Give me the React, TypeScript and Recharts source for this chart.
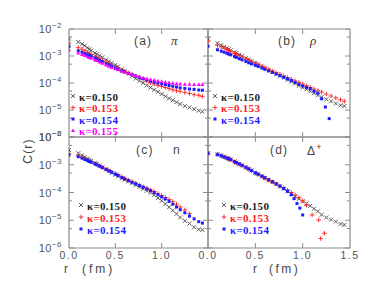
import { ScatterChart, Scatter, XAxis, YAxis } from "recharts";

const W = 382;
const H = 300;

// r in fm (lattice distances)
const R_GRID = [0, 0.1, 0.14, 0.17, 0.2, 0.22, 0.24, 0.28, 0.3, 0.33, 0.36, 0.4, 0.43, 0.46, 0.5, 0.53, 0.57, 0.6, 0.64, 0.68, 0.72, 0.76, 0.8, 0.84, 0.88, 0.92, 0.96, 1.0, 1.04, 1.08, 1.12, 1.16, 1.2, 1.25, 1.3, 1.35, 1.4, 1.44];
const R_RHO_154 = [0, 0.1, 0.14, 0.17, 0.2, 0.22, 0.24, 0.28, 0.3, 0.33, 0.36, 0.4, 0.43, 0.46, 0.5, 0.53, 0.57, 0.6, 0.64, 0.68, 0.72, 0.76, 0.8, 0.84, 0.88, 0.92, 0.96, 1.0, 1.04, 1.08, 1.12, 1.16, 1.2, 1.24, 1.28];
const R_N_153 = [0, 0.1, 0.14, 0.17, 0.2, 0.22, 0.24, 0.28, 0.3, 0.33, 0.36, 0.4, 0.43, 0.46, 0.5, 0.53, 0.57, 0.6, 0.64, 0.68, 0.72, 0.76, 0.8, 0.84, 0.88, 0.92, 0.96, 1.0, 1.04, 1.08, 1.12, 1.16, 1.2, 1.25, 1.3];
const R_DELTA_153 = [0, 0.1, 0.14, 0.17, 0.2, 0.22, 0.24, 0.28, 0.3, 0.33, 0.36, 0.4, 0.43, 0.46, 0.5, 0.53, 0.57, 0.6, 0.64, 0.68, 0.72, 0.76, 0.8, 0.84, 0.88, 0.92, 0.96, 1.0, 1.04, 1.1, 1.17, 1.19, 1.23];
const R_DELTA_154 = [0, 0.1, 0.14, 0.17, 0.2, 0.22, 0.24, 0.28, 0.3, 0.33, 0.36, 0.4, 0.43, 0.46, 0.5, 0.53, 0.57, 0.6, 0.64, 0.68, 0.72, 0.76, 0.8, 0.84, 0.88, 0.91, 0.94, 0.97, 1.0];

// (a) pi
const PI_150 = [4.4e-3, 3.3e-3, 2.8e-3, 2.4e-3, 2.0e-3, 1.78e-3, 1.58e-3, 1.29e-3, 1.17e-3, 1.02e-3, 8.9e-4, 7.2e-4, 6.3e-4, 5.5e-4, 4.7e-4, 4.1e-4, 3.2e-4, 2.75e-4, 2.2e-4, 1.78e-4, 1.45e-4, 1.2e-4, 1.0e-4, 8.1e-5, 6.8e-5, 5.6e-5, 4.7e-5, 3.9e-5, 3.2e-5, 2.7e-5, 2.3e-5, 1.95e-5, 1.66e-5, 1.41e-5, 1.23e-5, 1.07e-5, 9.5e-6, 8.7e-6];
const PI_153 = [3.0e-3, 2.04e-3, 1.78e-3, 1.55e-3, 1.35e-3, 1.23e-3, 1.12e-3, 9.5e-4, 8.9e-4, 7.9e-4, 6.9e-4, 5.9e-4, 5.2e-4, 4.6e-4, 4.0e-4, 3.55e-4, 3.0e-4, 2.7e-4, 2.35e-4, 2.05e-4, 1.78e-4, 1.55e-4, 1.35e-4, 1.17e-4, 1.02e-4, 9.1e-5, 8.1e-5, 7.4e-5, 6.8e-5, 6.2e-5, 5.6e-5, 5.2e-5, 4.9e-5, 4.5e-5, 4.1e-5, 3.7e-5, 3.5e-5, 3.2e-5];
const PI_154 = [2.3e-3, 1.55e-3, 1.38e-3, 1.23e-3, 1.1e-3, 1.02e-3, 9.5e-4, 8.3e-4, 7.8e-4, 6.9e-4, 6.2e-4, 5.2e-4, 4.7e-4, 4.2e-4, 3.6e-4, 3.2e-4, 2.8e-4, 2.6e-4, 2.3e-4, 2.05e-4, 1.82e-4, 1.62e-4, 1.45e-4, 1.32e-4, 1.17e-4, 1.07e-4, 1.0e-4, 9.3e-5, 8.7e-5, 8.1e-5, 7.6e-5, 7.1e-5, 6.6e-5, 6.3e-5, 6.0e-5, 5.8e-5, 5.5e-5, 5.4e-5];
const PI_155 = [1.7e-3, 1.29e-3, 1.15e-3, 1.05e-3, 9.5e-4, 8.9e-4, 8.3e-4, 7.2e-4, 6.8e-4, 6.0e-4, 5.4e-4, 4.7e-4, 4.2e-4, 3.8e-4, 3.4e-4, 3.1e-4, 2.75e-4, 2.5e-4, 2.3e-4, 2.1e-4, 1.9e-4, 1.74e-4, 1.58e-4, 1.48e-4, 1.35e-4, 1.29e-4, 1.2e-4, 1.15e-4, 1.1e-4, 1.05e-4, 1.0e-4, 9.5e-5, 9.3e-5, 9.1e-5, 9.1e-5, 8.9e-5, 8.9e-5, 8.9e-5];

// (b) rho
const RHO_150 = [4.4e-3, 3.0e-3, 2.5e-3, 2.2e-3, 1.95e-3, 1.78e-3, 1.62e-3, 1.38e-3, 1.29e-3, 1.12e-3, 1.0e-3, 8.3e-4, 7.4e-4, 6.5e-4, 5.5e-4, 4.8e-4, 4.1e-4, 3.6e-4, 3.0e-4, 2.6e-4, 2.2e-4, 1.86e-4, 1.55e-4, 1.32e-4, 1.12e-4, 9.5e-5, 7.9e-5, 6.8e-5, 5.8e-5, 4.9e-5, 4.2e-5, 3.5e-5, 3.0e-5, 2.5e-5, 2.1e-5, 1.74e-5, 1.5e-5, 1.4e-5];
const RHO_153 = [3.5e-3, 2.5e-3, 2.2e-3, 1.95e-3, 1.74e-3, 1.58e-3, 1.45e-3, 1.23e-3, 1.15e-3, 1.02e-3, 9.1e-4, 7.8e-4, 6.9e-4, 6.2e-4, 5.4e-4, 4.8e-4, 4.1e-4, 3.6e-4, 3.2e-4, 2.75e-4, 2.4e-4, 2.1e-4, 1.82e-4, 1.58e-4, 1.38e-4, 1.2e-4, 1.05e-4, 9.1e-5, 7.9e-5, 6.9e-5, 6.0e-5, 5.2e-5, 4.6e-5, 3.9e-5, 3.3e-5, 2.8e-5, 2.4e-5, 2.1e-5];
const RHO_154 = [2.3e-3, 1.7e-3, 1.51e-3, 1.38e-3, 1.26e-3, 1.17e-3, 1.1e-3, 9.5e-4, 8.9e-4, 7.9e-4, 7.2e-4, 6.3e-4, 5.6e-4, 5.1e-4, 4.5e-4, 4.1e-4, 3.55e-4, 3.2e-4, 2.8e-4, 2.45e-4, 2.15e-4, 1.86e-4, 1.62e-4, 1.41e-4, 1.23e-4, 1.05e-4, 8.9e-5, 7.8e-5, 6.8e-5, 6.2e-5, 5.0e-5, 4.2e-5, 2.6e-5, 1.29e-5, 4.8e-6];

// (c) n
const N_150 = [3.4e-3, 2.6e-3, 2.2e-3, 1.9e-3, 1.66e-3, 1.51e-3, 1.38e-3, 1.17e-3, 1.07e-3, 9.3e-4, 8.1e-4, 6.8e-4, 5.9e-4, 5.1e-4, 4.3e-4, 3.8e-4, 3.2e-4, 2.9e-4, 2.5e-4, 2.15e-4, 1.86e-4, 1.58e-4, 1.35e-4, 1.15e-4, 9.8e-5, 8.1e-5, 6.3e-5, 5.0e-5, 3.9e-5, 2.95e-5, 2.25e-5, 1.7e-5, 1.26e-5, 9.5e-6, 7.6e-6, 5.6e-6, 4.7e-6, 4.5e-6];
const N_153 = [2.5e-3, 2.1e-3, 1.82e-3, 1.62e-3, 1.48e-3, 1.38e-3, 1.29e-3, 1.1e-3, 1.02e-3, 9.1e-4, 8.1e-4, 6.9e-4, 6.2e-4, 5.5e-4, 4.8e-4, 4.3e-4, 3.6e-4, 3.2e-4, 2.8e-4, 2.45e-4, 2.15e-4, 1.86e-4, 1.62e-4, 1.41e-4, 1.23e-4, 1.07e-4, 9.1e-5, 7.8e-5, 6.6e-5, 5.6e-5, 4.7e-5, 3.8e-5, 3.0e-5, 2.35e-5, 1.74e-5];
const N_154 = [2.25e-3, 1.95e-3, 1.74e-3, 1.55e-3, 1.41e-3, 1.32e-3, 1.23e-3, 1.07e-3, 1.0e-3, 8.9e-4, 7.9e-4, 6.8e-4, 6.0e-4, 5.4e-4, 4.6e-4, 4.1e-4, 3.5e-4, 3.1e-4, 2.7e-4, 2.35e-4, 2.05e-4, 1.78e-4, 1.55e-4, 1.35e-4, 1.17e-4, 1.0e-4, 8.3e-5, 6.9e-5, 5.8e-5, 4.8e-5, 3.8e-5, 3.0e-5, 2.4e-5, 1.86e-5, 1.41e-5, 1.12e-5, 8.9e-6, 7.9e-6];

// (d) Delta+
const DELTA_150 = [2.6e-3, 2.4e-3, 2.15e-3, 1.95e-3, 1.78e-3, 1.66e-3, 1.55e-3, 1.32e-3, 1.2e-3, 1.07e-3, 9.5e-4, 8.1e-4, 7.1e-4, 6.2e-4, 5.1e-4, 4.5e-4, 3.8e-4, 3.3e-4, 2.75e-4, 2.35e-4, 2.0e-4, 1.66e-4, 1.38e-4, 1.12e-4, 8.9e-5, 7.2e-5, 5.9e-5, 4.8e-5, 4.0e-5, 3.3e-5, 2.6e-5, 2.1e-5, 1.58e-5, 1.26e-5, 1.05e-5, 8.9e-6, 7.4e-6, 6.8e-6];
const DELTA_153 = [2.5e-3, 2.35e-3, 2.1e-3, 1.9e-3, 1.74e-3, 1.62e-3, 1.51e-3, 1.29e-3, 1.17e-3, 1.05e-3, 9.3e-4, 7.9e-4, 6.9e-4, 6.0e-4, 5.0e-4, 4.5e-4, 3.8e-4, 3.3e-4, 2.8e-4, 2.4e-4, 2.05e-4, 1.7e-4, 1.45e-4, 1.2e-4, 1.0e-4, 8.1e-5, 6.5e-5, 5.0e-5, 3.5e-5, 1.55e-5, 1.02e-5, 2.2e-6, 3.4e-6];
const DELTA_154 = [2.6e-3, 2.3e-3, 2.1e-3, 1.9e-3, 1.74e-3, 1.62e-3, 1.51e-3, 1.29e-3, 1.2e-3, 1.07e-3, 9.5e-4, 8.1e-4, 7.1e-4, 6.2e-4, 5.1e-4, 4.6e-4, 3.9e-4, 3.4e-4, 2.9e-4, 2.45e-4, 2.05e-4, 1.7e-4, 1.38e-4, 1.1e-4, 8.3e-5, 6.0e-5, 4.0e-5, 2.75e-5, 1.55e-5];

const KAPPAS = ["0.150", "0.153", "0.154", "0.155"];
const COLORS = ["#222222", "#ff2020", "#1c1cff", "#ff00ff"];

const X_TICKS = [0, 0.5, 1.0, 1.5];
const Y_TICKS = [1e-6, 5e-6, 1e-5, 5e-5, 1e-4, 5e-4, 1e-3, 5e-3, 1e-2];

const FRAME = "#8c8c8c";
const SANS = "'Liberation Sans', Arial, sans-serif";
const SERIF = "'Liberation Serif', 'Times New Roman', serif";

const zip = (rs: number[], cs: number[]) => cs.map((c, i) => ({ r: rs[i], c }));

const Cross = (p: any) => (
  <path d={`M${p.cx - 2},${p.cy - 2}L${p.cx + 2},${p.cy + 2}M${p.cx - 2},${p.cy + 2}L${p.cx + 2},${p.cy - 2}`} stroke="#333" strokeWidth={0.8} fill="none" />
);
const Plus = (p: any) => (
  <path d={`M${p.cx - 2.3},${p.cy}h4.6M${p.cx},${p.cy - 2.3}v4.6`} stroke="#ff2020" strokeWidth={0.9} fill="none" />
);
const Dot = (p: any) => <rect x={p.cx - 1.5} y={p.cy - 1.5} width={3} height={3} fill="#1c1cff" />;
const Tri = (p: any) => (
  <path d={`M${p.cx},${p.cy - 2}L${p.cx + 2},${p.cy + 1.6}L${p.cx - 2},${p.cy + 1.6}Z`} fill="#ff00ff" />
);
const SHAPES = [Cross, Plus, Dot, Tri];

const isMajor = (v: number) => Math.abs(Math.log10(v) - Math.round(Math.log10(v))) < 1e-6;

// y tick: inward tick line at the frame edge, optional 10^-n label
const makeYTick = (edge: number, dir: number, labels: boolean) => (p: any) => {
  const v = p.payload.value;
  const major = isMajor(v);
  const len = major ? 5 : 3;
  const exp = Math.round(Math.log10(v));
  return (
    <g>
      <line x1={edge} x2={edge + dir * len} y1={p.y} y2={p.y} stroke={FRAME} strokeWidth={1} />
      {labels && major && (
        <text x={edge - 7} y={p.y + 4} textAnchor="end" fontSize={11} fill="#555" fontFamily={SANS} letterSpacing={0.5}>
          10<tspan dy={-5} fontSize={8}>{`\u2212${-exp}`}</tspan>
        </text>
      )}
    </g>
  );
};

const makeXTick = (edge: number, dir: number, labels: number[]) => (p: any) => {
  const v = p.payload.value;
  const inner = v > 0 && v < 1.5;
  return (
    <g>
      {inner && <line x1={p.x} x2={p.x} y1={edge} y2={edge + dir * 5} stroke={FRAME} strokeWidth={1} />}
      {labels.includes(v) && (
        <text x={p.x} y={edge + 11} textAnchor="middle" fontSize={10.5} fill="#555" fontFamily={SANS} letterSpacing={1.5}>
          {v.toFixed(1)}
        </text>
      )}
    </g>
  );
};

type Series = { data: { r: number; c: number }[]; kind: number };
type Box = { x0: number; x1: number; y0: number; y1: number };

function Panel({ box, series, yLabels, xLabels }: { box: Box; series: Series[]; yLabels: boolean; xLabels: number[] }) {
  const margin = { left: box.x0 - 1, right: W - box.x1 - 1, top: box.y0 - 1, bottom: H - box.y1 - 1 };
  const line = { stroke: FRAME, strokeWidth: 1.2 };
  const yCommon = { type: "number" as const, scale: "log" as const, domain: [1e-6, 1e-2], allowDataOverflow: true, width: 1, axisLine: line, tickLine: false, ticks: Y_TICKS, interval: 0 as const };
  const xCommon = { type: "number" as const, dataKey: "r", domain: [0, 1.5], allowDataOverflow: true, height: 1, axisLine: line, tickLine: false, ticks: X_TICKS, interval: 0 as const };
  return (
    <div style={{ position: "absolute", left: 0, top: 0 }}>
      <ScatterChart width={W} height={H} margin={margin}>
        <XAxis xAxisId="b" orientation="bottom" {...xCommon} tick={makeXTick(box.y1, -1, xLabels)} />
        <XAxis xAxisId="t" orientation="top" {...xCommon} tick={makeXTick(box.y0, 1, [])} />
        <YAxis yAxisId="l" orientation="left" {...yCommon} tick={makeYTick(box.x0, 1, yLabels)} />
        <YAxis yAxisId="r" orientation="right" {...yCommon} tick={makeYTick(box.x1, -1, false)} />
        {series.map((s, i) => (
          <Scatter key={i} xAxisId="b" yAxisId="l" data={s.data} dataKey="c" shape={SHAPES[s.kind]} isAnimationActive={false} />
        ))}
      </ScatterChart>
    </div>
  );
}

function LegendBlock({ x, ys, n }: { x: number; ys: number[]; n: number }) {
  return (
    <g>
      {KAPPAS.slice(0, n).map((k, i) => {
        const Shape = SHAPES[i];
        return (
          <g key={k}>
            <Shape cx={x} cy={ys[i] - 1} />
            <text x={x + 6} y={ys[i] + 3.5} fontSize={11} fontWeight="bold" fontFamily={SERIF} fill={COLORS[i]} letterSpacing={0.3}>
              {`\u03ba=${k}`}
            </text>
          </g>
        );
      })}
    </g>
  );
}

const BOX_A = { x0: 69, x1: 208, y0: 29, y1: 137 };
const BOX_B = { x0: 208, x1: 350, y0: 29, y1: 137 };
const BOX_C = { x0: 69, x1: 208, y0: 137, y1: 248 };
const BOX_D = { x0: 208, x1: 350, y0: 137, y1: 248 };

export default function App() {
  const lab = { fontSize: 12, fill: "#444", fontFamily: SANS, letterSpacing: 1.2 };
  const rlab = { fontSize: 12, fill: "#444", fontFamily: SANS };
  return (
    <div style={{ position: "absolute", left: 0, top: 0, width: W, height: H, background: "#fff" }}>
      <Panel box={BOX_A} yLabels xLabels={[]} series={[
        { data: zip(R_GRID, PI_150), kind: 0 },
        { data: zip(R_GRID, PI_153), kind: 1 },
        { data: zip(R_GRID, PI_154), kind: 2 },
        { data: zip(R_GRID, PI_155), kind: 3 },
      ]} />
      <Panel box={BOX_B} yLabels={false} xLabels={[]} series={[
        { data: zip(R_GRID, RHO_150), kind: 0 },
        { data: zip(R_GRID, RHO_153), kind: 1 },
        { data: zip(R_RHO_154, RHO_154), kind: 2 },
      ]} />
      <Panel box={BOX_C} yLabels xLabels={[0, 0.5, 1.0]} series={[
        { data: zip(R_GRID, N_150), kind: 0 },
        { data: zip(R_N_153, N_153), kind: 1 },
        { data: zip(R_GRID, N_154), kind: 2 },
      ]} />
      <Panel box={BOX_D} yLabels={false} xLabels={[0, 0.5, 1.0, 1.5]} series={[
        { data: zip(R_GRID, DELTA_150), kind: 0 },
        { data: zip(R_DELTA_153, DELTA_153), kind: 1 },
        { data: zip(R_DELTA_154, DELTA_154), kind: 2 },
      ]} />
      <svg width={W} height={H} style={{ position: "absolute", left: 0, top: 0 }}>
        <text x={134} y={45} {...lab}>(a)</text>
        <text x={171} y={45} fontSize={13} fontStyle="italic" fontFamily={SERIF} fill="#333">π</text>
        <text x={278} y={45} {...lab}>(b)</text>
        <text x={310} y={45} fontSize={13} fontStyle="italic" fontFamily={SERIF} fill="#333">ρ</text>
        <text x={136} y={154} {...lab}>(c)</text>
        <text x={173} y={154} {...lab}>n</text>
        <text x={270} y={154} {...lab}>(d)</text>
        <text x={307} y={155} {...lab}>Δ<tspan dy={-5} fontSize={9}>+</tspan></text>
        <LegendBlock x={73} ys={[97, 108.5, 120, 131.5]} n={4} />
        <LegendBlock x={215} ys={[97, 108.5, 120]} n={3} />
        <LegendBlock x={81} ys={[206, 218, 230]} n={3} />
        <LegendBlock x={224} ys={[206, 218, 230]} n={3} />
        <text x={28} y={151} transform="rotate(-90 28 151)" textAnchor="middle" dominantBaseline="central" {...lab}>C(r)</text>
        <text x={64} y={272.5} {...rlab}>r</text>
        <text x={82} y={272.5} {...rlab} letterSpacing={3}>(fm)</text>
        <text x={253} y={272.5} {...rlab}>r</text>
        <text x={269} y={272.5} {...rlab} letterSpacing={2.5}>(fm)</text>
      </svg>
    </div>
  );
}
